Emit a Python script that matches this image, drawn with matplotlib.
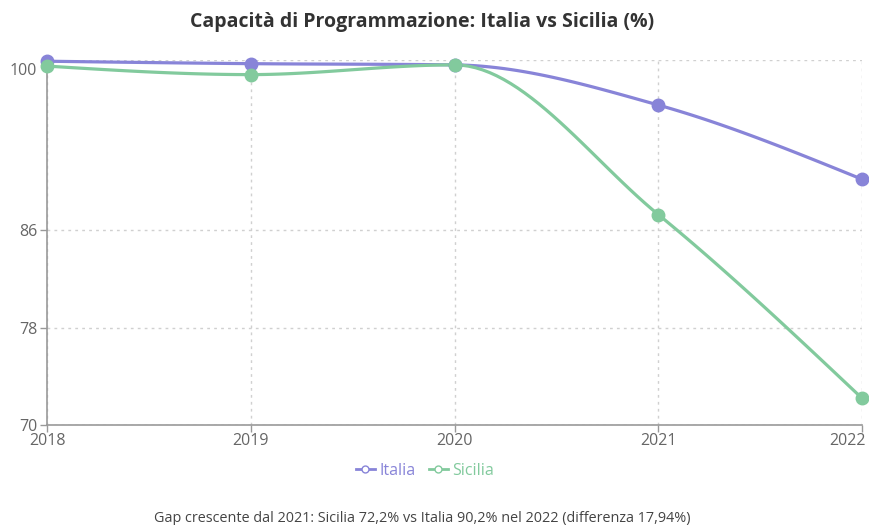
import numpy as np
import matplotlib.pyplot as plt
from matplotlib.lines import Line2D
import matplotlib.transforms as mtransforms

plt.rcParams['font.family'] = ['Open Sans', 'DejaVu Sans']

years = [2018, 2019, 2020, 2021, 2022]
italia = [99.9, 99.7, 99.6, 96.3, 90.2]
sicilia = [99.5, 98.8, 99.6, 87.3, 72.2]
yticks = [70, 78, 86, 100]

c_ita = '#8884d8'
c_sic = '#82ca9d'


def monotone_path(x, y, n=30):
    # d3 curveMonotoneX, sampled
    x = np.asarray(x, float)
    y = np.asarray(y, float)
    h = np.diff(x)
    s = np.diff(y) / h
    t = np.zeros(len(x))
    for i in range(1, len(x) - 1):
        p = (s[i - 1] * h[i] + s[i] * h[i - 1]) / (h[i - 1] + h[i])
        t[i] = (np.sign(s[i - 1]) + np.sign(s[i])) * min(abs(s[i - 1]), abs(s[i]), 0.5 * abs(p))
    t[0] = (3 * s[0] - t[1]) / 2
    t[-1] = (3 * s[-1] - t[-2]) / 2
    xs, ys = [], []
    u = np.linspace(0, 1, n)
    for i in range(len(x) - 1):
        dx = h[i] / 3
        px = [x[i], x[i] + dx, x[i + 1] - dx, x[i + 1]]
        py = [y[i], y[i] + dx * t[i], y[i + 1] - dx * t[i + 1], y[i + 1]]
        b = [(1 - u) ** 3, 3 * (1 - u) ** 2 * u, 3 * (1 - u) * u ** 2, u ** 3]
        xs.extend(sum(b[k] * px[k] for k in range(4)))
        ys.extend(sum(b[k] * py[k] for k in range(4)))
    return xs, ys


fig = plt.figure(figsize=(8.69, 5.25), dpi=100)
ax = fig.add_axes([47 / 869, 100 / 525, 815 / 869, 365 / 525])

for vals, col in [(italia, c_ita), (sicilia, c_sic)]:
    xs, ys = monotone_path(years, vals)
    ax.plot(xs, ys, color=col, lw=2.3, zorder=3, clip_on=False, solid_capstyle='round')
    ax.plot(years, vals, 'o', color=col, ms=9, zorder=4, clip_on=False)

ax.set_xlim(2018, 2022)
ax.set_ylim(70, 100)
ax.set_xticks(years)
ax.set_yticks(yticks)
ax.grid(True, color='#d0d0d0', linestyle=(0, (2, 3)), lw=1)
for side in ['top', 'right']:
    ax.spines[side].set_visible(False)
for side in ['left', 'bottom']:
    ax.spines[side].set_color('#999999')
    ax.spines[side].set_linewidth(1.2)
ax.tick_params(colors='#999999', labelcolor='#666666', labelsize=11.5, length=5, width=1)
ax.tick_params(axis='y', pad=2)
ax.tick_params(axis='x', pad=1)

# the "100" label sits a bit lower in the original
lab = ax.get_yticklabels()[-1]
lab.set_transform(lab.get_transform() + mtransforms.ScaledTranslation(0, -9 / 100, fig.dpi_scale_trans))
ax.yaxis.get_major_ticks()[-1].tick1line.set_visible(False)
# last year label is pulled inside the figure
ax.get_xticklabels()[-1].set_ha('right')
xl = ax.get_xticklabels()[-1]
xl.set_transform(xl.get_transform() + mtransforms.ScaledTranslation(4 / 100, 0, fig.dpi_scale_trans))

fig.text(422 / 869, 1 - 22 / 525, 'Capacità di Programmazione: Italia vs Sicilia (%)',
         ha='center', va='center', fontsize=14, fontweight='bold', color='#333333')

handles = [Line2D([], [], color=c_ita, marker='o', markerfacecolor='white', ms=5, lw=2),
           Line2D([], [], color=c_sic, marker='o', markerfacecolor='white', ms=5, lw=2)]
leg = fig.legend(handles, ['Italia', 'Sicilia'], loc='center', bbox_to_anchor=(425 / 869, 1 - 471 / 525),
                 ncol=2, frameon=False, fontsize=11.5, handlelength=1.2, handletextpad=0.3, columnspacing=0.8)
for txt, col in zip(leg.get_texts(), [c_ita, c_sic]):
    txt.set_color(col)

fig.text(422 / 869, 1 - 518 / 525,
         'Gap crescente dal 2021: Sicilia 72,2% vs Italia 90,2% nel 2022 (differenza 17,94%)',
         ha='center', va='center', fontsize=10.4, color='#444444')

fig.savefig('out.png', dpi=100)
